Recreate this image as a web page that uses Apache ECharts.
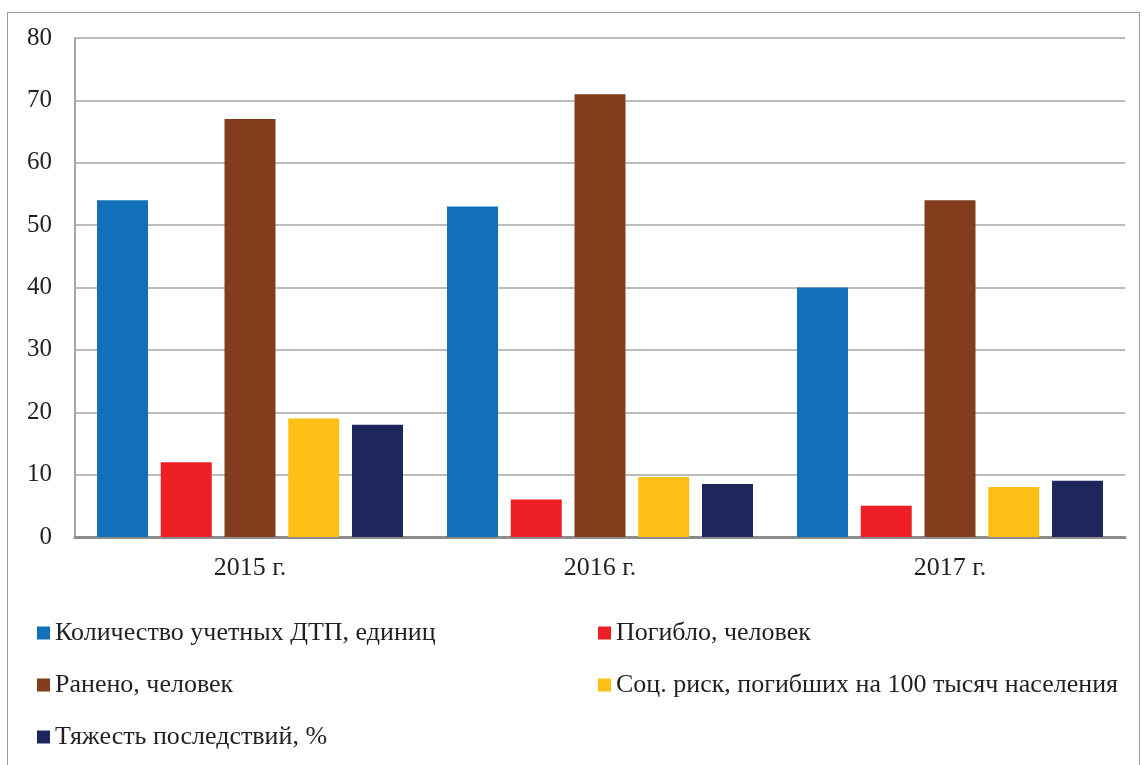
<!DOCTYPE html>
<html>
<head>
<meta charset="utf-8">
<script src="https://cdn.jsdelivr.net/npm/echarts@6/dist/echarts.min.js"></script>
<style>
  html, body { margin: 0; padding: 0; background: #fff; }
  #chart { width: 1147px; height: 765px; }
</style>
</head>
<body>
<div id="chart"></div>
<script>
// categories (years)
const years = ['2015 г.', '2016 г.', '2017 г.']

// series values
const accidents = [54, 53, 40]
const killed = [12, 6, 5]
const injured = [67, 71, 54]
const socialRisk = [19, 9.6, 8]
const severity = [18, 8.5, 9]

const seriesNames = [
  'Количество учетных ДТП, единиц',
  'Погибло, человек',
  'Ранено, человек',
  'Соц. риск, погибших на 100 тысяч населения',
  'Тяжесть последствий, %'
]
const seriesData = [accidents, killed, injured, socialRisk, severity]
const colors = ['#1170b8', '#ed1f24', '#813d1c', '#fbbf15', '#1d275b']

const font = '"Liberation Serif", "DejaVu Serif", serif'

const chart = echarts.init(document.getElementById('chart'))

const legendCommon = {
  orient: 'vertical',
  icon: 'rect',
  padding: 0,
  itemWidth: 13,
  itemHeight: 13,
  itemGap: 26,
  selectedMode: false,
  textStyle: { fontFamily: font, fontSize: 26, color: '#231f20', lineHeight: 26 }
}

chart.setOption({
  color: colors,
  animation: false,
  graphic: [{
    type: 'rect',
    shape: { x: 7.5, y: 12.5, width: 1132, height: 780 },
    style: { fill: 'none', stroke: '#9a9a9a', lineWidth: 1 }
  }],
  grid: { left: 75, right: 22, top: 38, bottom: 228 },
  legend: [
    Object.assign({ left: 37, top: 620, data: [seriesNames[0], seriesNames[2], seriesNames[4]] }, legendCommon),
    Object.assign({ left: 598, top: 620, data: [seriesNames[1], seriesNames[3]] }, legendCommon)
  ],
  xAxis: {
    type: 'category',
    data: years,
    axisTick: { show: false },
    axisLine: { lineStyle: { color: '#8c8c8c', width: 3 } },
    axisLabel: { fontFamily: font, fontSize: 26, color: '#231f20', margin: 18 }
  },
  yAxis: {
    type: 'value',
    min: 0,
    max: 80,
    interval: 10,
    axisLine: { show: true, lineStyle: { color: '#a6a6a6', width: 2 } },
    axisTick: { show: false },
    splitLine: { lineStyle: { color: '#a6a6a6', width: 1.5 } },
    axisLabel: { fontFamily: font, fontSize: 25, color: '#231f20', margin: 23 }
  },
  series: seriesNames.map((name, i) => ({
    name,
    type: 'bar',
    data: seriesData[i],
    barWidth: 51,
    barGap: '25%',
    itemStyle: { color: colors[i] }
  }))
})
</script>
</body>
</html>
